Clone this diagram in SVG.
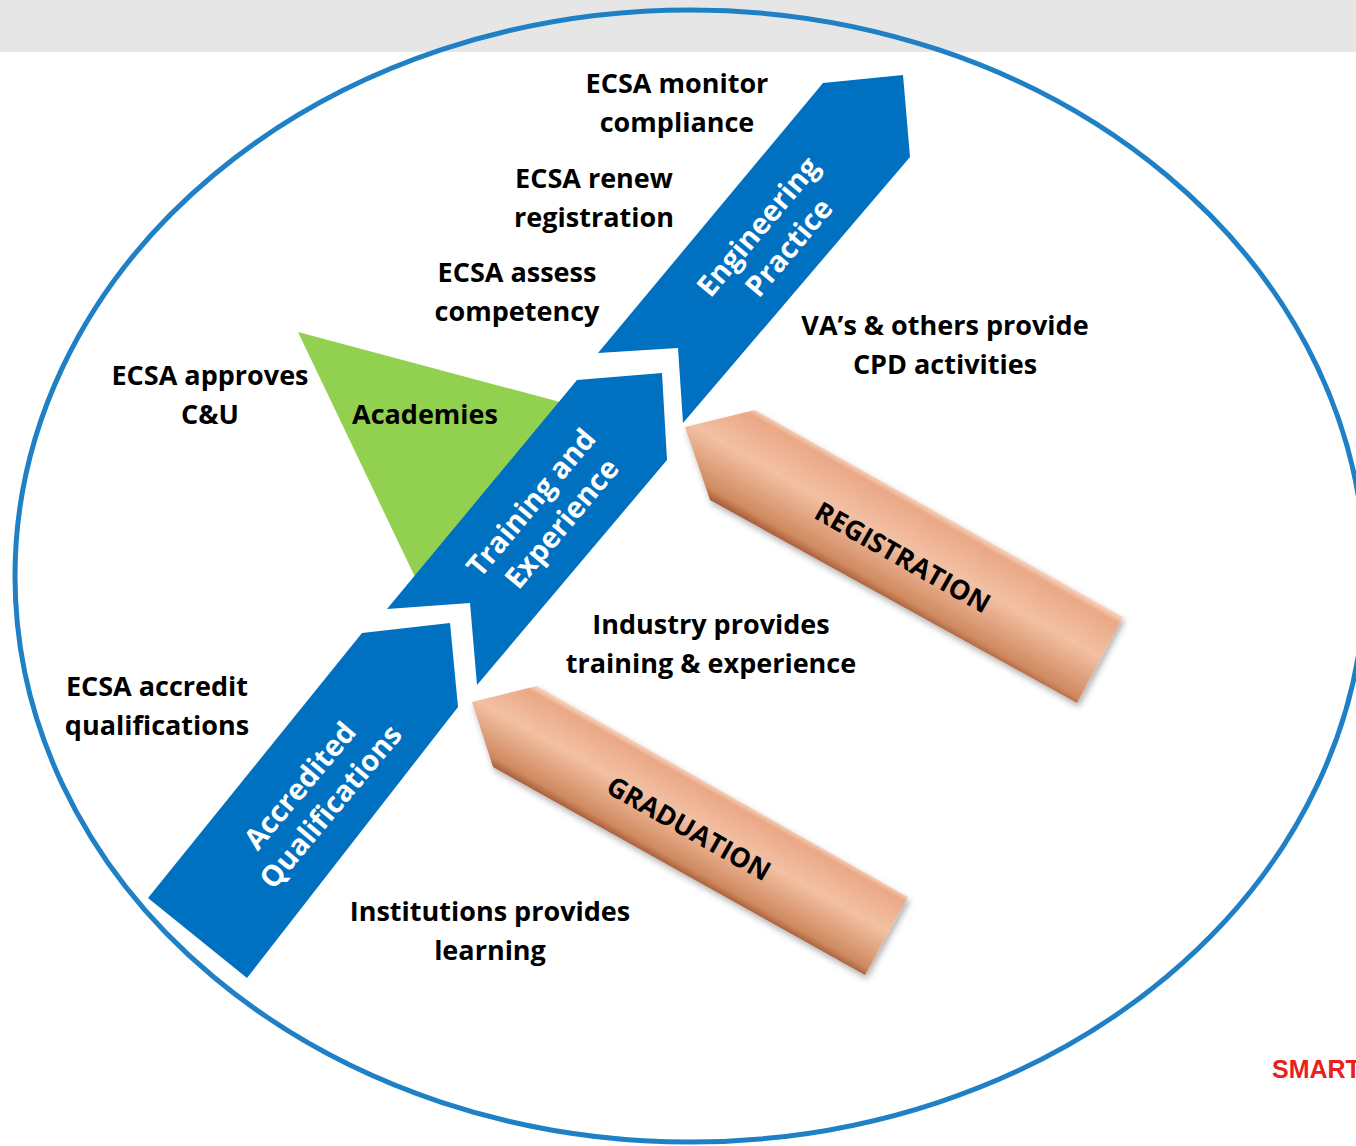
<svg xmlns="http://www.w3.org/2000/svg" width="1356" height="1146" viewBox="0 0 1356 1146">
  <defs>
    <style>
      .lbl { font-family: "Open Sans", "Liberation Sans", sans-serif; font-weight: 700; font-size: 27px; fill: #000; text-anchor: middle; }
      .arrowtxt { font-family: "Open Sans", "Liberation Sans", sans-serif; font-weight: 700; font-size: 29px; fill: #fff; text-anchor: middle; }
      .capstxt { font-family: "Open Sans", "Liberation Sans", sans-serif; font-weight: 700; font-size: 27px; fill: #000; text-anchor: middle; }
      .blue { fill: #0070c0; }
      .green { fill: #92d050; }
    </style>
    <linearGradient id="gReg" gradientUnits="userSpaceOnUse" x1="940" y1="514" x2="890" y2="602">
      <stop offset="0" stop-color="#f8d2bd"/>
      <stop offset="0.07" stop-color="#eaa886"/>
      <stop offset="0.45" stop-color="#f3c0a3"/>
      <stop offset="0.9" stop-color="#d08a60"/>
      <stop offset="1" stop-color="#a65d3a"/>
    </linearGradient>
    <linearGradient id="gGrad" gradientUnits="userSpaceOnUse" x1="722" y1="791" x2="677" y2="871">
      <stop offset="0" stop-color="#f8d2bd"/>
      <stop offset="0.07" stop-color="#eaa886"/>
      <stop offset="0.45" stop-color="#f3c0a3"/>
      <stop offset="0.9" stop-color="#d08a60"/>
      <stop offset="1" stop-color="#a65d3a"/>
    </linearGradient>
    <filter id="shadow" x="-10%" y="-10%" width="130%" height="130%">
      <feDropShadow dx="2" dy="4" stdDeviation="3" flood-color="#000" flood-opacity="0.3"/>
    </filter>
  </defs>

  <rect x="0" y="0" width="1356" height="1146" fill="#ffffff"/>
  <rect x="0" y="0" width="1356" height="52" fill="#e6e6e6"/>

  <g id="boundary">
    <ellipse cx="690" cy="576" rx="675" ry="566" fill="none" stroke="#1f80c6" stroke-width="5"/>
  </g>

  <g id="connectors"></g>

  <g id="academies">
    <polygon class="green" points="298,332 560,402 415,577"/>
    <text class="lbl" x="425" y="424">Academies</text>
  </g>

  <g id="accredited-qualifications">
    <polygon class="blue" points="362,633 450,623 458,707 247,978 148,898"/>
    <text class="arrowtxt" transform="translate(317,795) rotate(-50)">
      <tspan x="0" y="-9">Accredited</tspan>
      <tspan x="0" y="28">Qualifications</tspan>
    </text>
  </g>

  <g id="training-experience">
    <polygon class="blue" points="387,609 577,380 662,373 667,460 477,685 470,603"/>
    <text class="arrowtxt" transform="translate(548,512) rotate(-50)">
      <tspan x="0" y="-9">Training and</tspan>
      <tspan x="0" y="28">Experience</tspan>
    </text>
  </g>

  <g id="engineering-practice">
    <polygon class="blue" points="598,353 823,83 903,75 910,157 683,423 678,348"/>
    <text class="arrowtxt" transform="translate(775,236) rotate(-50)">
      <tspan x="0" y="-9">Engineering</tspan>
      <tspan x="0" y="28">Practice</tspan>
    </text>
  </g>

  <g id="registration">
    <polygon points="685,427 755,410 1123,617 1077,703 710,500" fill="url(#gReg)" filter="url(#shadow)"/>
    <text class="capstxt" transform="translate(903,557) rotate(29.5)" y="10">REGISTRATION</text>
  </g>

  <g id="graduation">
    <polygon points="472,702 537,686 908,897 865,975 493,767" fill="url(#gGrad)" filter="url(#shadow)"/>
    <text class="capstxt" transform="translate(689,828) rotate(29.5)" y="10">GRADUATION</text>
  </g>

  <g id="ecsa-monitor">
    <text class="lbl" x="677" y="93">ECSA monitor</text>
    <text class="lbl" x="677" y="132">compliance</text>
  </g>
  <g id="ecsa-renew">
    <text class="lbl" x="594" y="188">ECSA renew</text>
    <text class="lbl" x="594" y="227">registration</text>
  </g>
  <g id="ecsa-assess">
    <text class="lbl" x="517" y="282">ECSA assess</text>
    <text class="lbl" x="517" y="321">competency</text>
  </g>
  <g id="ecsa-approves">
    <text class="lbl" x="210" y="385">ECSA approves</text>
    <text class="lbl" x="210" y="424">C&amp;U</text>
  </g>
  <g id="vas-cpd">
    <text class="lbl" x="945" y="335">VA’s &amp; others provide</text>
    <text class="lbl" x="945" y="374">CPD activities</text>
  </g>
  <g id="industry">
    <text class="lbl" x="711" y="634">Industry provides</text>
    <text class="lbl" x="711" y="673">training &amp; experience</text>
  </g>
  <g id="ecsa-accredit">
    <text class="lbl" x="157" y="696">ECSA accredit</text>
    <text class="lbl" x="157" y="735">qualifications</text>
  </g>
  <g id="institutions">
    <text class="lbl" x="490" y="921">Institutions provides</text>
    <text class="lbl" x="490" y="960">learning</text>
  </g>

  <text x="1272" y="1078" font-family="Liberation Sans, Arial, sans-serif" font-weight="700" font-size="25" fill="#e8201e">SMART</text>
</svg>
